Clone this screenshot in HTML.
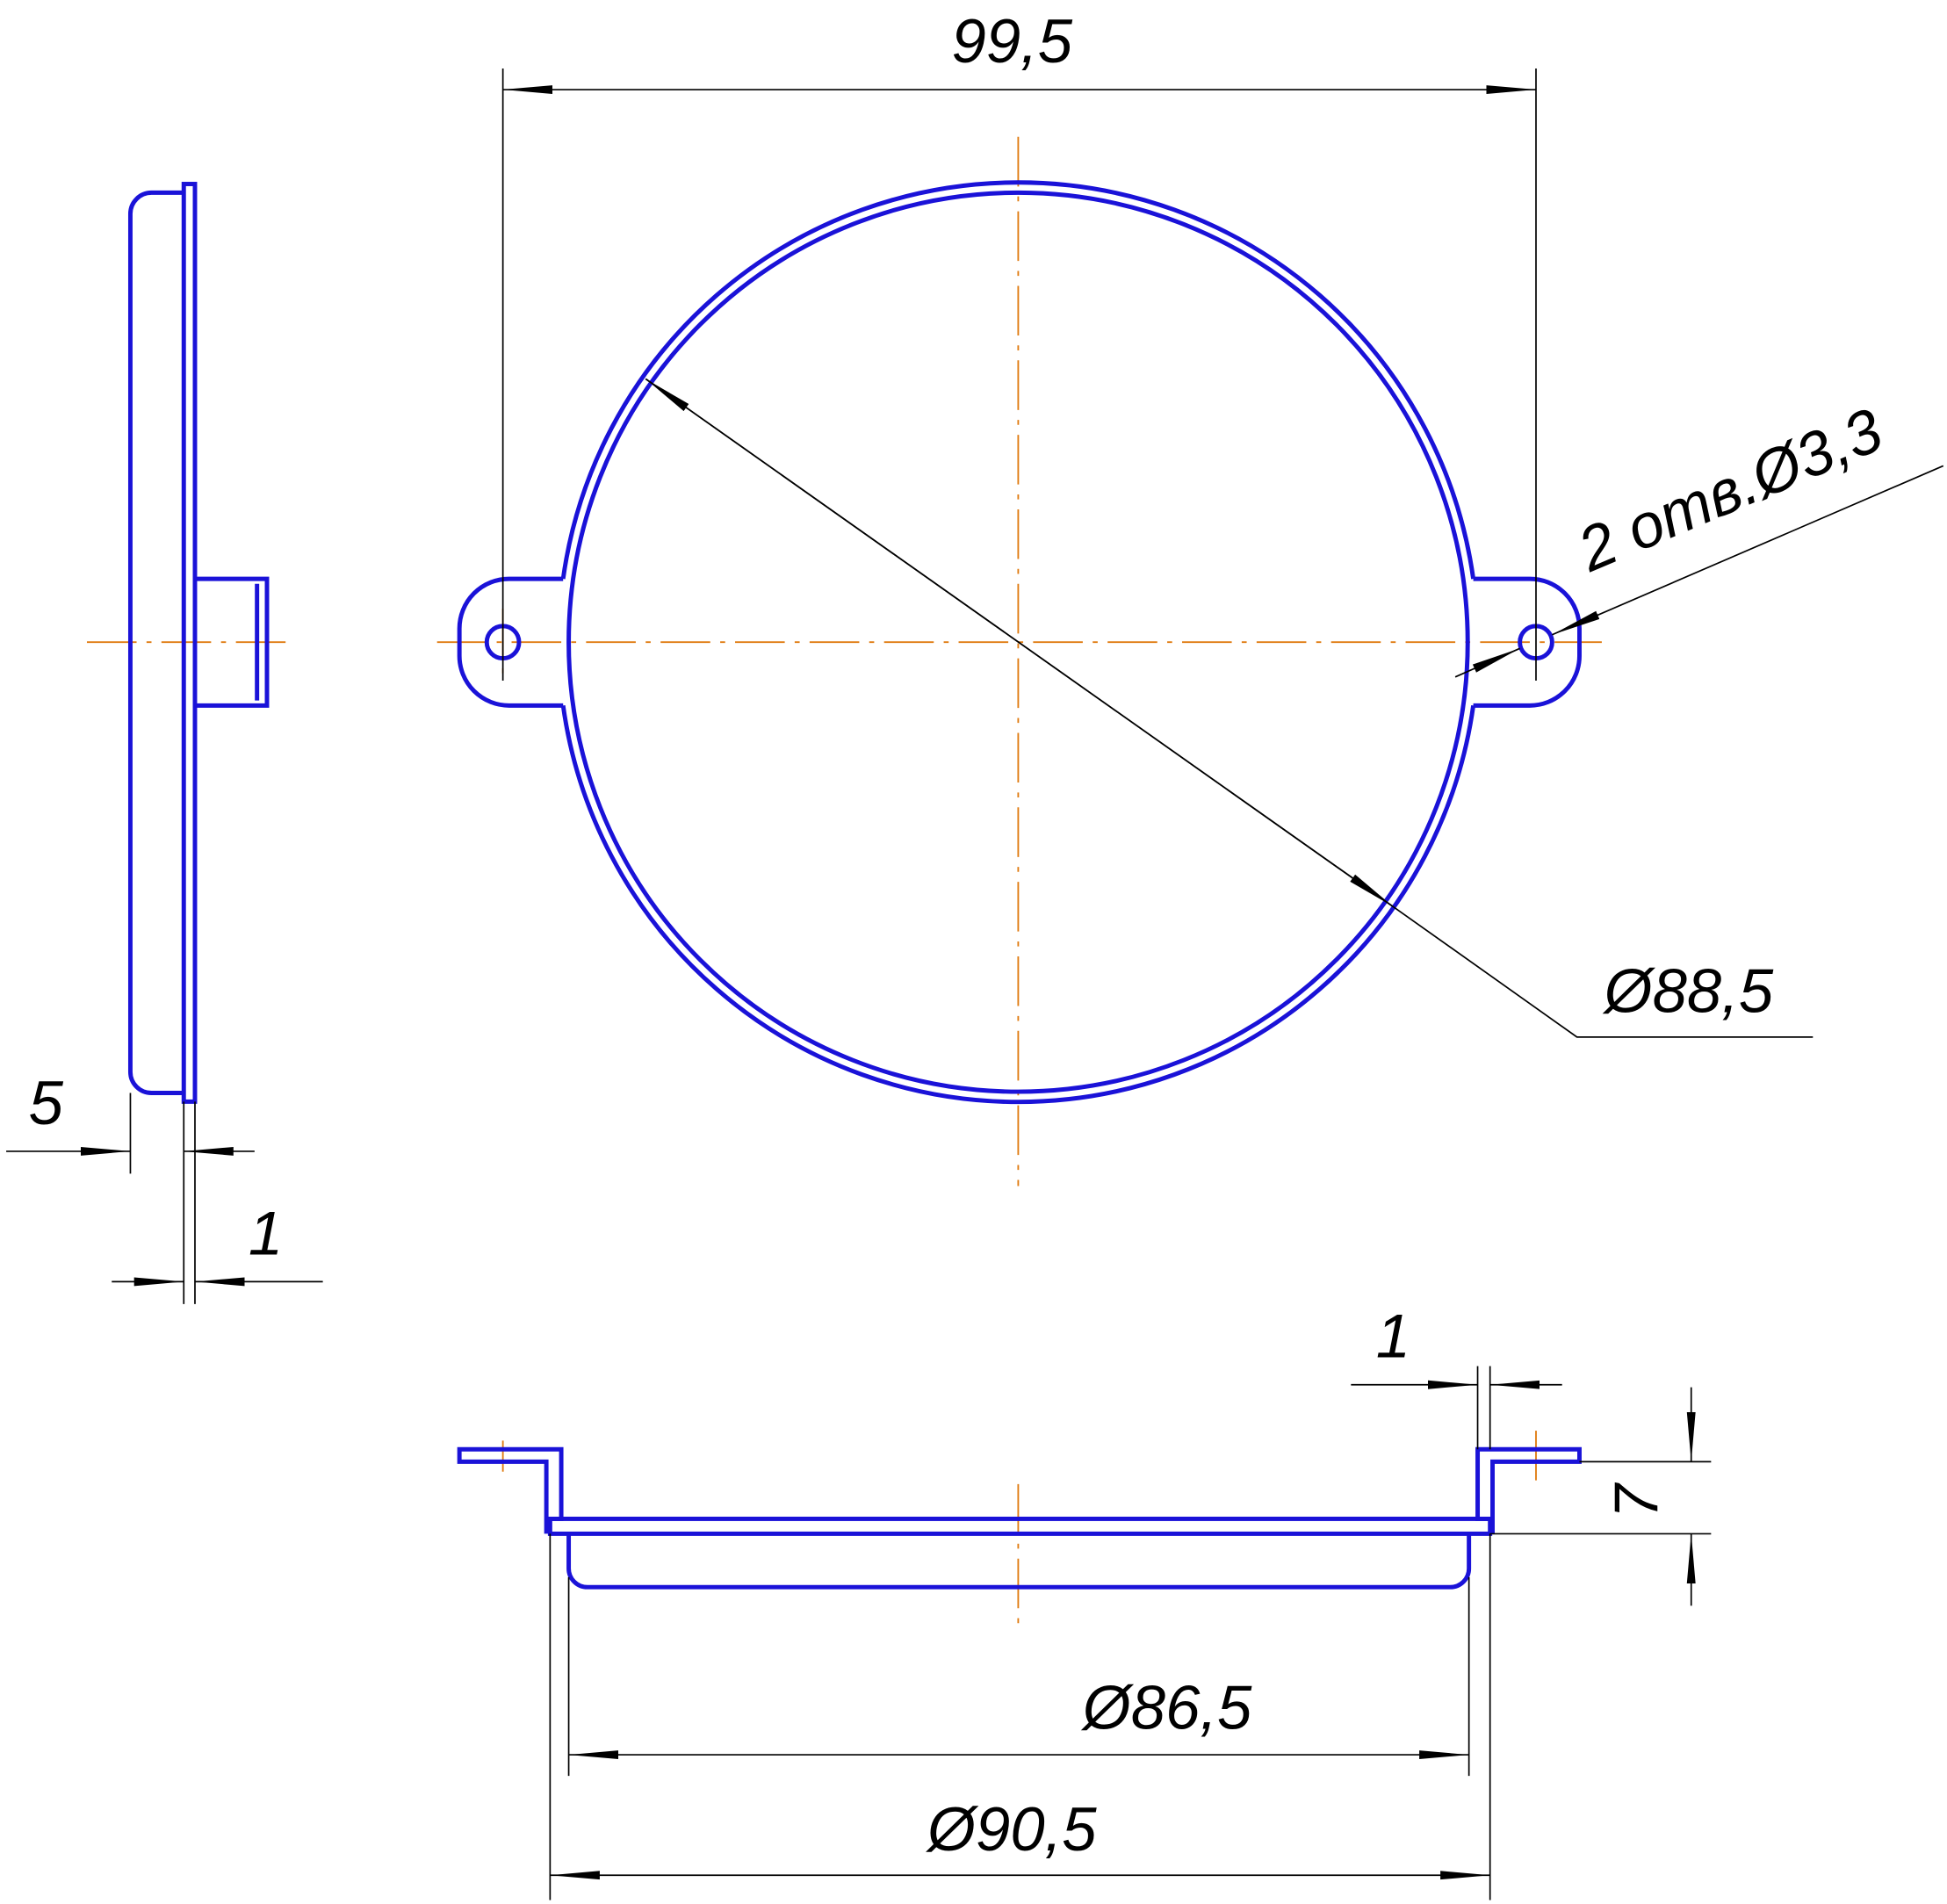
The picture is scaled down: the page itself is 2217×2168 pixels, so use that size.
<!DOCTYPE html>
<html><head><meta charset="utf-8"><style>
html,body{margin:0;padding:0;background:#fff;}
svg{display:block;}
text{font-family:"Liberation Sans",sans-serif;font-style:italic;fill:#000;}
</style></head><body>
<svg width="2217" height="2168" viewBox="0 0 1568 1533" xmlns="http://www.w3.org/2000/svg">
<defs>
<marker id="a" viewBox="0 0 40 10" refX="40" refY="5" markerWidth="40" markerHeight="10" markerUnits="userSpaceOnUse" orient="auto-start-reverse"><path d="M0,1.5 L40,5 L0,8.5 Z" fill="#000"/></marker>
</defs>
<g stroke="#e07b10" stroke-width="1.3" stroke-dasharray="40,8,4,8" fill="none">
<line x1="70" y1="517" x2="235" y2="517"/>
<line x1="352" y1="517" x2="1290" y2="517"/>
<line x1="820" y1="110" x2="820" y2="955"/>
<line x1="405" y1="490" x2="405" y2="548"/>
<line x1="820" y1="1195" x2="820" y2="1315"/>
<line x1="405" y1="1160" x2="405" y2="1185"/>
<line x1="1237" y1="1152" x2="1237" y2="1200"/>
</g>
<g stroke="#1a12d8" stroke-width="3.5" fill="none">
<path d="M453.5,466 A370,370 0 0 1 1186.5,466"/>
<path d="M453.5,568 A370,370 0 0 0 1186.5,568"/>
<circle cx="820" cy="517" r="362"/>
<path d="M453.5,466 L410,466 A40,40 0 0 0 370,506 L370,528 A40,40 0 0 0 410,568 L453.5,568"/>
<path d="M1186.5,466 L1232,466 A40,40 0 0 1 1272,506 L1272,528 A40,40 0 0 1 1232,568 L1186.5,568"/>
<circle cx="405" cy="517" r="13"/>
<circle cx="1237" cy="517" r="13"/>
<rect x="148" y="148" width="9" height="739"/>
<path d="M148,155 L122,155 A17,17 0 0 0 105,172 L105,863 A17,17 0 0 0 122,880 L148,880"/>
<path d="M157,466 L215,466 L215,568 L157,568"/>
<line x1="207" y1="470" x2="207" y2="564"/>
<rect x="443" y="1223" width="757" height="12"/>
<path d="M458,1235 L458,1263 A15,15 0 0 0 473,1278 L1168,1278 A15,15 0 0 0 1183,1263 L1183,1235"/>
<path d="M443,1223 L452,1223 L452,1167 L370,1167 L370,1177 L440,1177 L440,1235"/>
<path d="M1200,1223 L1190,1223 L1190,1167 L1272,1167 L1272,1177 L1202,1177 L1202,1235"/>
</g>
<g stroke="#000" stroke-width="1.2" fill="none">
<line x1="405" y1="55" x2="405" y2="548"/>
<line x1="1237" y1="55" x2="1237" y2="548"/>
<line x1="405" y1="72" x2="1237" y2="72" marker-start="url(#a)" marker-end="url(#a)"/>
<line x1="1122" y1="730" x2="520" y2="305" marker-end="url(#a)"/>
<line x1="520" y1="305" x2="1122" y2="730" marker-end="url(#a)"/>
<polyline points="1122,730 1270,835 1460,835"/>
<line x1="1565" y1="375" x2="1250" y2="511" marker-end="url(#a)"/>
<line x1="1172" y1="545" x2="1224" y2="522" marker-end="url(#a)"/>
<line x1="105" y1="880" x2="105" y2="945"/>
<line x1="148" y1="887" x2="148" y2="1050"/>
<line x1="157" y1="887" x2="157" y2="1050"/>
<line x1="5" y1="927" x2="105" y2="927" marker-end="url(#a)"/>
<line x1="205" y1="927" x2="148" y2="927" marker-end="url(#a)"/>
<line x1="90" y1="1032" x2="148" y2="1032" marker-end="url(#a)"/>
<line x1="260" y1="1032" x2="157" y2="1032" marker-end="url(#a)"/>
<line x1="443" y1="1235" x2="443" y2="1530"/>
<line x1="1200" y1="1235" x2="1200" y2="1530"/>
<line x1="458" y1="1270" x2="458" y2="1430"/>
<line x1="1183" y1="1270" x2="1183" y2="1430"/>
<line x1="458" y1="1413" x2="1183" y2="1413" marker-start="url(#a)" marker-end="url(#a)"/>
<line x1="443" y1="1510" x2="1200" y2="1510" marker-start="url(#a)" marker-end="url(#a)"/>
<line x1="1190" y1="1100" x2="1190" y2="1167"/>
<line x1="1200" y1="1100" x2="1200" y2="1167"/>
<line x1="1088" y1="1115" x2="1190" y2="1115" marker-end="url(#a)"/>
<line x1="1258" y1="1115" x2="1200" y2="1115" marker-end="url(#a)"/>
<line x1="1272" y1="1177" x2="1378" y2="1177"/>
<line x1="1200" y1="1235" x2="1378" y2="1235"/>
<line x1="1362" y1="1117" x2="1362" y2="1177" marker-end="url(#a)"/>
<line x1="1362" y1="1293" x2="1362" y2="1235" marker-end="url(#a)"/>
</g>
<g font-size="50">
<text x="815" y="50" text-anchor="middle">99,5</text>
<text x="1360" y="815" text-anchor="middle">Ø88,5</text>
<text x="1400" y="410" text-anchor="middle" transform="rotate(-23 1400 410)">2 отв.Ø3,3</text>
<text x="37" y="905" text-anchor="middle">5</text>
<text x="214" y="1010" text-anchor="middle">1</text>
<text x="1122" y="1093" text-anchor="middle">1</text>
<text x="940" y="1392" text-anchor="middle">Ø86,5</text>
<text x="815" y="1490" text-anchor="middle">Ø90,5</text>
<text x="1317" y="1209" text-anchor="middle" transform="rotate(-90 1317 1209)" dy="18">7</text>
</g>
</svg>
</body></html>
